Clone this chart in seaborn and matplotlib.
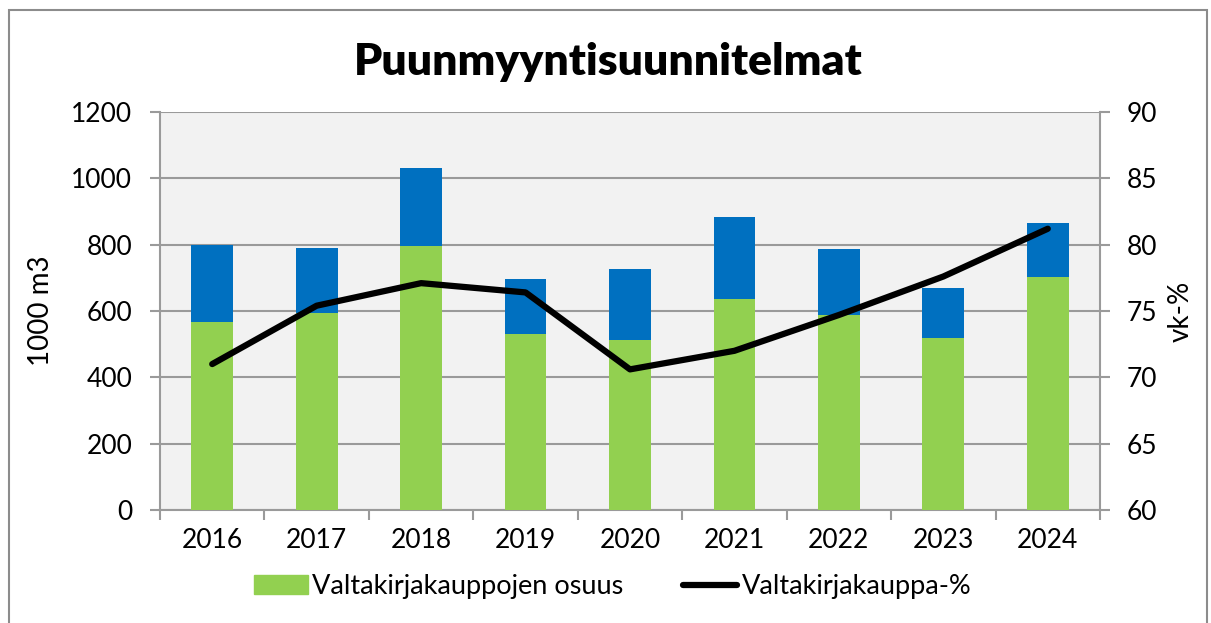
import numpy as np
import pandas as pd
import matplotlib
matplotlib.use("Agg")
import matplotlib.pyplot as plt
import matplotlib.patches as patches
from matplotlib.lines import Line2D
import seaborn as sns

# ---- data ----
years = ["2016", "2017", "2018", "2019", "2020", "2021", "2022", "2023", "2024"]
total_m3 = [800, 789, 1032, 695, 727, 884, 788, 668, 866]        # koko pylväs (1000 m3)
vk_m3 = [568, 595, 796, 532, 514, 637, 588, 518, 704]             # valtakirjakauppojen osuus
vk_pct = [71.0, 75.4, 77.1, 76.4, 70.6, 72.0, 74.7, 77.6, 81.2]   # valtakirjakauppa-%

df = pd.DataFrame({"vuosi": years, "yht": total_m3, "vk": vk_m3, "pct": vk_pct})

green = "#92D050"
blue = "#0070C0"
grid_c = "#9A9A9A"

sns.set_style("white")
plt.rcParams["font.family"] = ["Lato", "DejaVu Sans"]
plt.rcParams["text.color"] = "black"
plt.rcParams["axes.labelcolor"] = "black"
plt.rcParams["xtick.labelcolor"] = "black"
plt.rcParams["ytick.labelcolor"] = "black"

fig = plt.figure(figsize=(12.11, 6.23), dpi=100)
ax = fig.add_axes([160 / 1211, 113 / 623, 940 / 1211, 398 / 623])
ax.set_facecolor("#F2F2F2")

# pinotut pylväät: sininen koko, vihreä päälle
sns.barplot(data=df, x="vuosi", y="yht", color=blue, width=0.4,
            saturation=1, linewidth=0, ax=ax, zorder=2)
sns.barplot(data=df, x="vuosi", y="vk", color=green, width=0.4,
            saturation=1, linewidth=0, ax=ax, zorder=3)

ax.set_ylim(0, 1200)
ax.set_yticks(range(0, 1201, 200))
ax.set_xlim(-0.5, len(years) - 0.5)
ax.yaxis.grid(True, color=grid_c, lw=1.5, zorder=1)
ax.set_axisbelow(True)
ax.set_xlabel("")
ax.set_ylabel("1000 m3", fontsize=20, labelpad=12)
ax.tick_params(axis="y", labelsize=19, length=7, width=1.5, color=grid_c,
               direction="out", pad=13, left=True)
ax.tick_params(axis="x", which="major", labelsize=19, length=0, pad=13)
ax.set_xticks(np.arange(-0.5, len(years), 1), minor=True)
ax.tick_params(axis="x", which="minor", length=7, width=1.5, color=grid_c,
               direction="out", bottom=True)
for s in ["top", "right"]:
    ax.spines[s].set_visible(False)
for s in ["left", "bottom"]:
    ax.spines[s].set_color(grid_c)
    ax.spines[s].set_linewidth(1.5)

# oikea akseli: vk-%
ax2 = ax.twinx()
sns.lineplot(x=np.arange(len(years)), y=df["pct"], color="black", lw=4.5,
             solid_capstyle="round", solid_joinstyle="round", ax=ax2, zorder=4)
ax2.set_ylim(60, 90)
ax2.set_yticks(range(60, 91, 5))
ax2.set_ylabel("vk-%", fontsize=20, labelpad=8)
ax2.tick_params(axis="y", labelsize=19, length=7, width=1.5, color=grid_c,
                direction="out", pad=12, right=True)
for s in ["top", "left", "bottom"]:
    ax2.spines[s].set_visible(False)
ax2.spines["right"].set_color(grid_c)
ax2.spines["right"].set_linewidth(1.5)
ax.set_xlim(-0.5, len(years) - 0.5)

fig.text(0.502, 0.9, "Puunmyyntisuunnitelmat", ha="center", va="center",
         fontsize=32, fontweight="heavy", color="black")

handles = [patches.Patch(color=green, label="Valtakirjakauppojen osuus"),
           Line2D([0], [0], color="black", lw=4.5, label="Valtakirjakauppa-%")]
fig.legend(handles=handles, loc="center", bbox_to_anchor=(0.506, 0.058), ncol=2,
           frameon=False, fontsize=19.5, handlelength=2.0, handletextpad=0.15,
           columnspacing=2.2)

# kehys koko kuvan ympärille
fig.add_artist(patches.Rectangle((8.5 / 1211, -0.01), 1198 / 1211, 1 - 9.5 / 623 + 0.01,
                                 transform=fig.transFigure, fill=False,
                                 edgecolor="#8C8C8C", lw=1.5))

fig.savefig("out.png", dpi=100)
